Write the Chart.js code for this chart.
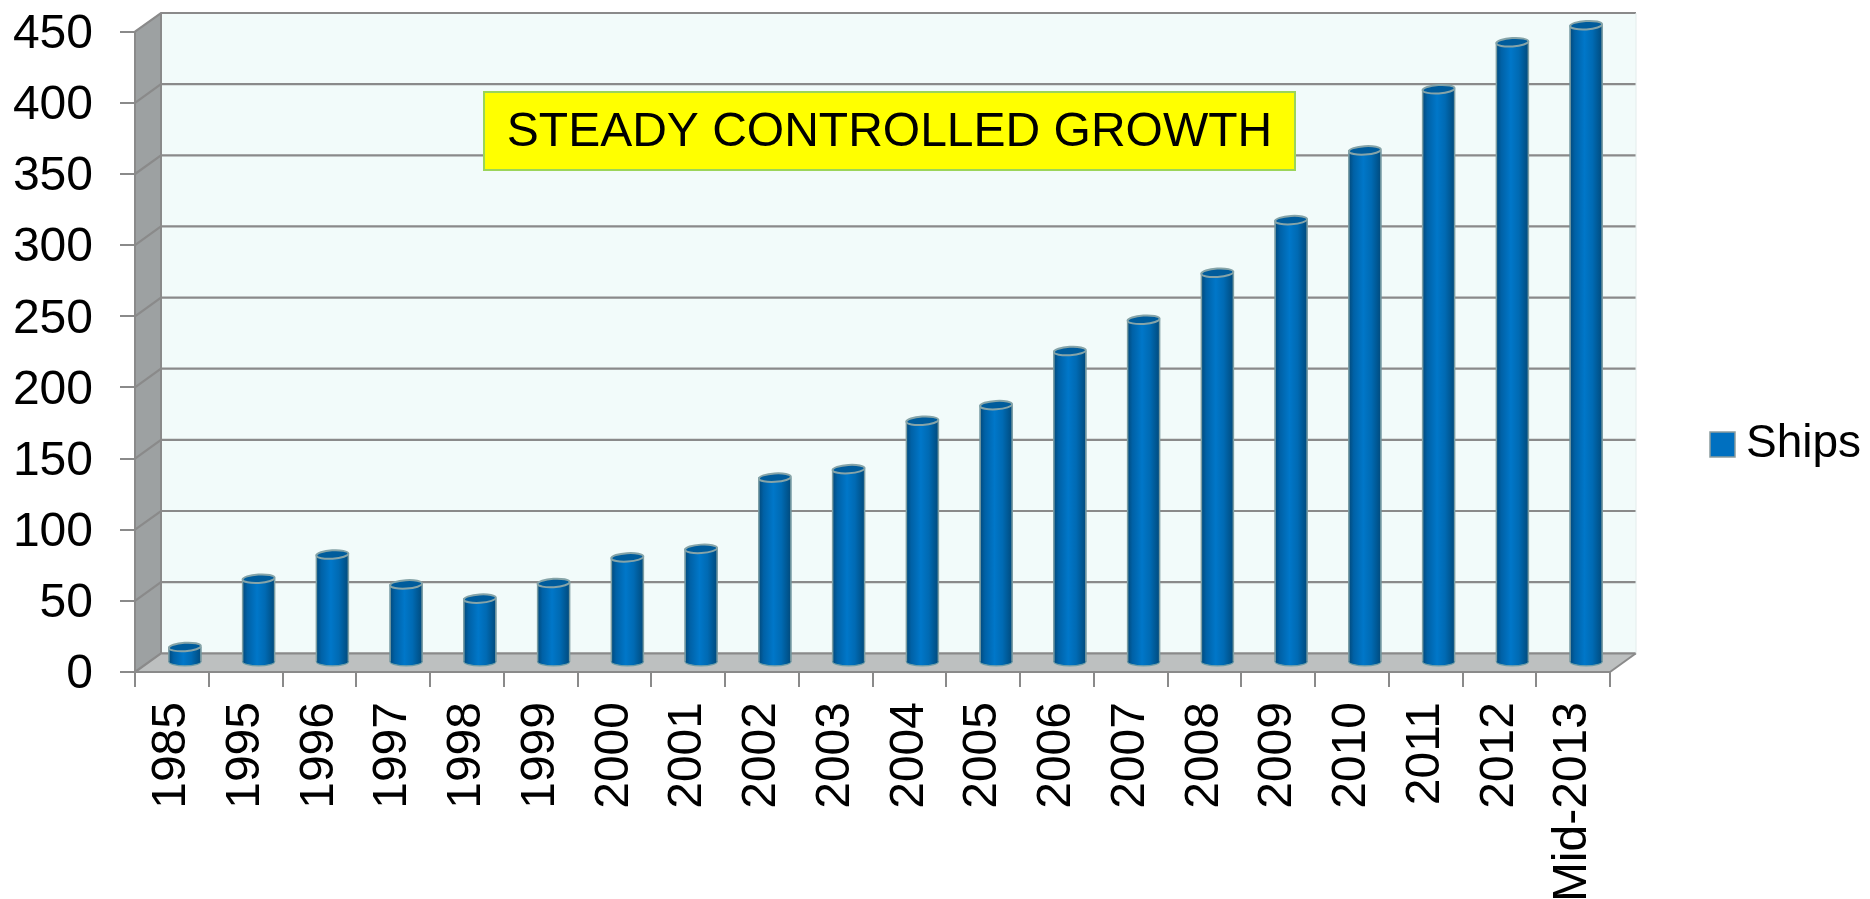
<!DOCTYPE html>
<html>
<head>
<meta charset="utf-8">
<script src="https://cdn.jsdelivr.net/npm/chart.js@4.4.1/dist/chart.umd.min.js"></script>
<style>
  html, body { margin: 0; padding: 0; background: #ffffff; }
  #wrap { width: 1870px; height: 899px; position: relative; }
</style>
</head>
<body>
<div id="wrap"><canvas id="c" width="1870" height="899"></canvas></div>
<script>
// ---- data ----
const categories = ["1985","1995","1996","1997","1998","1999","2000","2001","2002","2003",
                    "2004","2005","2006","2007","2008","2009","2010","2011","2012","Mid-2013"];
const ships = [11, 59, 76, 55, 45, 56, 74, 80, 130, 136,
               170, 181, 219, 241, 274, 311, 360, 403, 436, 448];
const seriesName = "Ships";
const yTicks = [0, 50, 100, 150, 200, 250, 300, 350, 400, 450];
const annotationText = "STEADY CONTROLLED GROWTH";

// ---- styling constants ----
const FONT = "'Liberation Sans', Arial, sans-serif";
const BACK_DX = 26, BACK_DY = -18.7;   // front plane -> back wall
const BAR_DX = 13, BAR_DY = -9.35;     // front plane -> bar mid plane
const GRID = '#8a8a8a';
const ELL_RY = 4.2;
const TARGET_TOP = 31.7;

function barGradient(ctx, x0, x1) {
  const g = ctx.createLinearGradient(x0, 0, x1, 0);
  g.addColorStop(0, '#024a7c');
  g.addColorStop(0.15, '#0061a6');
  g.addColorStop(0.45, '#0077c9');
  g.addColorStop(0.7, '#006ab3');
  g.addColorStop(0.9, '#00558f');
  g.addColorStop(1, '#024a7c');
  return g;
}

const wallsPlugin = {
  id: 'walls',
  beforeDraw(chart) {
    const ctx = chart.ctx;
    const ca = chart.chartArea;
    const ys = chart.scales.y;
    const L = ca.left, R = ca.right, T = ca.top, B = ca.bottom;
    ctx.save();
    ctx.fillStyle = '#f2fbfa';
    ctx.fillRect(L + BACK_DX, T + BACK_DY, R - L, B - T);
    ctx.fillStyle = '#9da1a2';
    ctx.beginPath();
    ctx.moveTo(L, T); ctx.lineTo(L + BACK_DX, T + BACK_DY);
    ctx.lineTo(L + BACK_DX, B + BACK_DY); ctx.lineTo(L, B);
    ctx.closePath(); ctx.fill();
    ctx.fillStyle = '#bdc0c0';
    ctx.beginPath();
    ctx.moveTo(L, B); ctx.lineTo(L + BACK_DX, B + BACK_DY);
    ctx.lineTo(R + BACK_DX, B + BACK_DY); ctx.lineTo(R, B);
    ctx.closePath(); ctx.fill();
    ctx.strokeStyle = GRID;
    ctx.lineWidth = 2.2;
    yTicks.forEach(v => {
      const y = ys.getPixelForValue(v);
      ctx.beginPath();
      ctx.moveTo(L, y);
      ctx.lineTo(L + BACK_DX, y + BACK_DY);
      ctx.lineTo(R + BACK_DX, y + BACK_DY);
      ctx.stroke();
    });
    ctx.lineWidth = 2;
    ctx.beginPath();
    ctx.moveTo(L + BACK_DX, T + BACK_DY); ctx.lineTo(L + BACK_DX, B + BACK_DY);
    ctx.stroke();
    ctx.beginPath();
    ctx.moveTo(R, B); ctx.lineTo(R + BACK_DX, B + BACK_DY);
    ctx.stroke();
    ctx.strokeStyle = '#e4ecec';
    ctx.lineWidth = 1;
    ctx.beginPath();
    ctx.moveTo(R + BACK_DX, T + BACK_DY); ctx.lineTo(R + BACK_DX, B + BACK_DY);
    ctx.stroke();
    ctx.restore();
  },
  beforeDatasetsDraw(chart) {
    const ctx = chart.ctx;
    ctx.save();
    ctx.translate(BAR_DX, BAR_DY);
    const meta = chart.getDatasetMeta(0);
    meta.data.forEach(el => {
      const p = el.getProps(['x', 'y', 'base', 'width'], true);
      if (!isFinite(p.x) || !isFinite(p.base)) return;
      const hw = p.width / 2;
      ctx.beginPath();
      ctx.ellipse(p.x, p.base, hw, ELL_RY, 0, 0, Math.PI * 2);
      ctx.fillStyle = barGradient(ctx, p.x - hw, p.x + hw);
      ctx.fill();
      ctx.beginPath();
      ctx.ellipse(p.x, p.base, hw, ELL_RY, 0, 0, Math.PI);
      ctx.strokeStyle = '#6f9ea8';
      ctx.lineWidth = 1.2;
      ctx.stroke();
    });
  },
  afterDatasetsDraw(chart) {
    const ctx = chart.ctx;
    const meta = chart.getDatasetMeta(0);
    meta.data.forEach(el => {
      const p = el.getProps(['x', 'y', 'base', 'width'], true);
      if (!isFinite(p.x) || !isFinite(p.y)) return;
      const hw = p.width / 2;
      ctx.strokeStyle = '#7d9ea3';
      ctx.lineWidth = 1.5;
      ctx.beginPath();
      ctx.moveTo(p.x - hw, p.y); ctx.lineTo(p.x - hw, p.base);
      ctx.moveTo(p.x + hw, p.y); ctx.lineTo(p.x + hw, p.base);
      ctx.stroke();
      ctx.beginPath();
      ctx.ellipse(p.x, p.y, hw, ELL_RY, -0.06, 0, Math.PI * 2);
      ctx.fillStyle = '#005c9c';
      ctx.fill();
      ctx.strokeStyle = '#86a4a8';
      ctx.lineWidth = 2;
      ctx.stroke();
    });
    ctx.restore();
  },
  afterDraw(chart) {
    const ctx = chart.ctx;
    ctx.save();
    const bx = 484, by = 92, bw = 811, bh = 78;
    ctx.fillStyle = '#ffff00';
    ctx.fillRect(bx, by, bw, bh);
    ctx.strokeStyle = '#9bd45a';
    ctx.lineWidth = 2;
    ctx.strokeRect(bx, by, bw, bh);
    ctx.fillStyle = '#000000';
    ctx.font = '48px ' + FONT;
    ctx.textAlign = 'center';
    ctx.textBaseline = 'middle';
    ctx.fillText(annotationText, bx + bw / 2, by + bh / 2 + 2);
    ctx.fillStyle = '#0070c0';
    ctx.fillRect(1710, 432, 25, 25);
    ctx.strokeStyle = '#8a9c9e';
    ctx.lineWidth = 1.5;
    ctx.strokeRect(1710, 432, 25, 25);
    ctx.fillStyle = '#000000';
    ctx.font = '46px ' + FONT;
    ctx.textAlign = 'left';
    ctx.textBaseline = 'middle';
    ctx.fillText(seriesName, 1746, 444);
    ctx.restore();
  }
};

const chart = new Chart(document.getElementById('c'), {
  type: 'bar',
  data: {
    labels: categories,
    datasets: [{
      label: seriesName,
      data: ships,
      barThickness: 32,
      borderWidth: 0,
      backgroundColor: (c) => {
        const chart = c.chart;
        const xs = chart.scales && chart.scales.x;
        if (!xs || c.dataIndex === undefined) return '#0070c0';
        const x = xs.getPixelForValue(c.dataIndex);
        if (!isFinite(x)) return '#0070c0';
        return barGradient(chart.ctx, x - 16, x + 16);
      }
    }]
  },
  options: {
    responsive: false,
    animation: false,
    devicePixelRatio: 1,
    layout: { padding: { top: TARGET_TOP, right: 260, left: 0, bottom: 0 } },
    plugins: {
      legend: { display: false },
      tooltip: { enabled: false }
    },
    scales: {
      x: {
        type: 'category',
        offset: true,
        grid: { offset: true, drawOnChartArea: false, drawTicks: true, tickLength: 15, color: GRID, lineWidth: 2 },
        border: { display: true, color: GRID, width: 2 },
        ticks: {
          autoSkip: false, minRotation: 90, maxRotation: 90, padding: 15,
          color: '#000000', font: { family: FONT, size: 48 }
        },
        afterFit: (s) => { s.height = 227; s.paddingLeft = 0; s.paddingRight = 0; }
      },
      y: {
        min: 0, max: 450,
        grid: { drawOnChartArea: false, drawTicks: true, tickLength: 15, color: GRID, lineWidth: 2 },
        border: { display: true, color: GRID, width: 2 },
        ticks: {
          stepSize: 50, padding: 27, labelOffset: 3,
          color: '#000000', font: { family: FONT, size: 48 }
        },
        afterFit: (s) => { s.width = 135; s.paddingTop = 0; s.paddingBottom = 0; }
      }
    }
  },
  plugins: [wallsPlugin]
});
</script>
</body>
</html>
